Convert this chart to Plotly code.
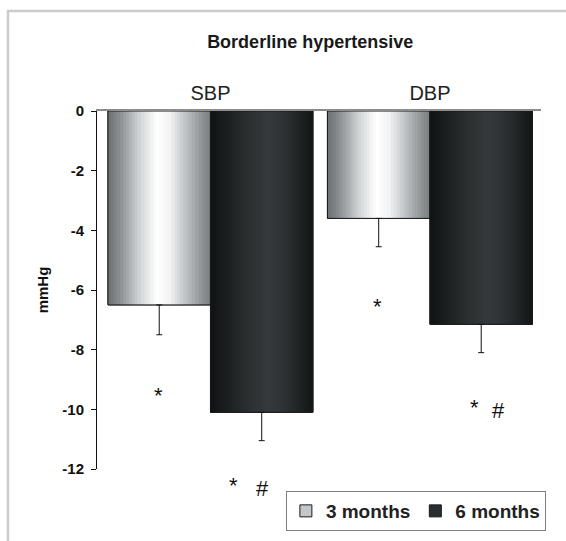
import plotly.graph_objects as go

# ---------------- data ----------------
categories = ["SBP", "DBP"]
series_names = ["3 months", "6 months"]
values_3m = [-6.5, -3.6]
values_6m = [-10.1, -7.15]
err_3m = [1.0, 0.95]
err_6m = [0.95, 0.95]
y_tickvals = [0, -2, -4, -6, -8, -10, -12]
y_ticktext = ["0", "-2", "-4", "-6", "-8", "-10", "-12"]
# significance markers: text, category index, value level
sig_text = ["*", "*", "#", "*", "*", "#"]
sig_cat = [0, 0, 0, 1, 1, 1]
sig_level = [-9.52, -12.55, -12.66, -6.56, -9.95, -10.03]

# ---------------- style ----------------
FONT = "Liberation Sans, Arial, sans-serif"
BW = 0.467          # bar width in category units
N_STRIPES = 34
sig_dx = [-0.235, 0.107, 0.235, -0.237, 0.205, 0.314]
Y_MIN, Y_MAX = -12, 0

grad_3m = [(0.0, "#6c7073"), (0.12, "#8b8f92"), (0.3, "#cfd2d4"),
           (0.48, "#ffffff"), (0.6, "#f3f4f5"), (0.78, "#b8bcbe"),
           (0.92, "#8e9294"), (1.0, "#7a7e80")]
grad_6m = [(0.0, "#101314"), (0.15, "#1b1e1f"), (0.35, "#2a2e2f"),
           (0.55, "#35393b"), (0.7, "#2f3335"), (0.88, "#1f2223"),
           (1.0, "#131617")]


def hex2rgb(h):
    h = h.lstrip("#")
    return tuple(int(h[i:i + 2], 16) for i in (0, 2, 4))


def grad_color(stops, t):
    for (t0, c0), (t1, c1) in zip(stops[:-1], stops[1:]):
        if t0 <= t <= t1:
            f = (t - t0) / (t1 - t0) if t1 > t0 else 0
            a, b = hex2rgb(c0), hex2rgb(c1)
            return "rgb(%d,%d,%d)" % tuple(round(a[i] + (b[i] - a[i]) * f) for i in range(3))
    return stops[-1][1]


xpos = list(range(len(categories)))
fig = go.Figure()

series = [
    (series_names[0], values_3m, err_3m, grad_3m, -BW, "#c4c7c9"),
    (series_names[1], values_6m, err_6m, grad_6m, 0.0, "#2b2e30"),
]

for name, vals, errs, grad, off, legend_col in series:
    # base bar (carries legend entry)
    fig.add_trace(go.Bar(
        x=xpos, y=vals, name=name, offset=off, width=BW,
        marker=dict(color=legend_col, line=dict(color="#1a1a1a", width=1)),
        legendgroup=name, showlegend=True, hoverinfo="skip"))
    # gradient stripes
    sw = BW / N_STRIPES
    for k in range(N_STRIPES):
        t = (k + 0.5) / N_STRIPES
        fig.add_trace(go.Bar(
            x=xpos, y=vals, offset=off + k * sw, width=sw * 1.25 if k < N_STRIPES - 1 else sw,
            marker=dict(color=grad_color(grad, t), line=dict(width=0)),
            legendgroup=name, showlegend=False, hoverinfo="skip"))
    # outline + error bars
    fig.add_trace(go.Bar(
        x=xpos, y=vals, offset=off, width=BW,
        marker=dict(color="rgba(0,0,0,0)", line=dict(color="#1a1a1a", width=1)),
        error_y=dict(type="data", symmetric=False, array=[0] * len(errs),
                     arrayminus=errs, color="#111111", thickness=1, width=3),
        legendgroup=name, showlegend=False, name=name,
        hovertemplate=name + " %{y}<extra></extra>"))

annotations = []
for txt, c, lvl, dx in zip(sig_text, sig_cat, sig_level, sig_dx):
    annotations.append(dict(
        x=c + dx, y=(lvl - Y_MIN) / (Y_MAX - Y_MIN), xref="x", yref="y domain",
        text=txt, showarrow=False,
        font=dict(family=FONT, size=22, color="#111111"),
        xanchor="center", yanchor="middle"))

fig.update_layout(
    width=566, height=541, autosize=False,
    margin=dict(l=97, r=25, t=111, b=72, autoexpand=False),
    paper_bgcolor="white", plot_bgcolor="white",
    barmode="overlay",
    font=dict(family=FONT, color="#111111"),
    title=dict(text="Borderline hypertensive", x=0.548, xanchor="center",
               y=1 - 42 / 541, yanchor="middle", xref="container", yref="container",
               font=dict(family=FONT, size=18, color="#1a1a1a", weight="bold")),
    xaxis=dict(range=[-0.517, 1.506], tickvals=xpos, ticktext=categories,
               side="top", showline=True, linecolor="#8c8c8c", linewidth=2,
               ticks="", showgrid=False, zeroline=False, ticklabelstandoff=1,
               automargin=False,
               tickfont=dict(family=FONT, size=20, color="#222222")),
    yaxis=dict(range=[Y_MIN, Y_MAX], tickvals=y_tickvals, ticktext=y_ticktext,
               ticks="outside", ticklen=5, tickcolor="#111111", tickwidth=1,
               showline=True, linecolor="#111111", linewidth=1,
               showgrid=False, zeroline=False, ticklabelstandoff=4,
               automargin=False,
               tickfont=dict(family=FONT, size=15, color="#111111", weight="bold"),
               title=dict(text="mmHg", standoff=10,
                          font=dict(family=FONT, size=15, color="#111111", weight="bold"))),
    legend=dict(orientation="h", x=1.011, xanchor="right", y=-0.0615, yanchor="top",
                bordercolor="#7f7f7f", borderwidth=1, bgcolor="white",
                font=dict(family=FONT, size=19, color="#222222", weight="bold"),
                itemclick=False, itemdoubleclick=False),
    annotations=annotations,
    shapes=[dict(type="rect", xref="paper", yref="paper",
                 x0=-0.2005, x1=1.2, y0=-0.4, y1=1.2793,
                 line=dict(color="#cccccc", width=2.5), layer="above")],
    showlegend=True,
)

fig.write_html("out.html", config={"displayModeBar": False},
               post_script="document.body.style.margin='0';document.body.style.padding='0';")
